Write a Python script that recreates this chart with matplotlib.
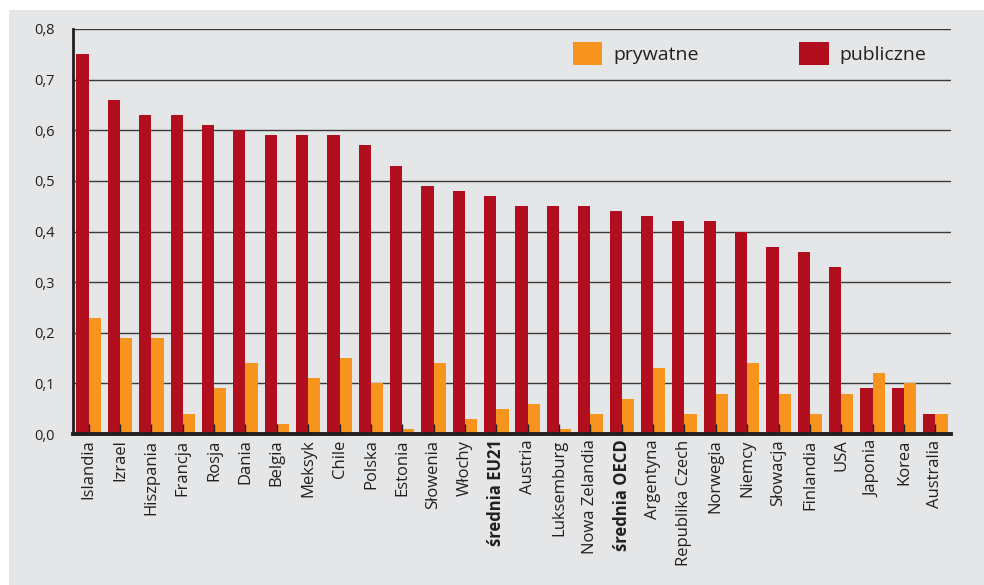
import numpy as np
import matplotlib
matplotlib.use("Agg")
import matplotlib.pyplot as plt
from matplotlib.patches import Rectangle, Patch
from matplotlib.ticker import FuncFormatter

plt.rcParams["font.family"] = ["Open Sans", "DejaVu Sans"]

countries = [
    "Islandia", "Izrael", "Hiszpania", "Francja", "Rosja", "Dania", "Belgia",
    "Meksyk", "Chile", "Polska", "Estonia", "Słowenia", "Włochy", "średnia EU21",
    "Austria", "Luksemburg", "Nowa Zelandia", "średnia OECD", "Argentyna",
    "Republika Czech", "Norwegia", "Niemcy", "Słowacja", "Finlandia", "USA",
    "Japonia", "Korea", "Australia",
]
publiczne = [
    0.75, 0.66, 0.63, 0.63, 0.61, 0.60, 0.59, 0.59, 0.59, 0.57, 0.53, 0.49,
    0.48, 0.47, 0.45, 0.45, 0.45, 0.44, 0.43, 0.42, 0.42, 0.40, 0.37, 0.36,
    0.33, 0.09, 0.09, 0.04,
]
prywatne = [
    0.23, 0.19, 0.19, 0.04, 0.09, 0.14, 0.02, 0.11, 0.15, 0.10, 0.01, 0.14,
    0.03, 0.05, 0.06, 0.01, 0.04, 0.07, 0.13, 0.04, 0.08, 0.14, 0.08, 0.04,
    0.08, 0.12, 0.10, 0.04,
]
bold_labels = ["średnia EU21", "średnia OECD"]

RED = "#b20f1e"
ORANGE = "#f7941e"
BG = "#e5e6e8"
INK = "#231f20"

W, H = 984, 585
fig = plt.figure(figsize=(W / 100, H / 100), dpi=100, facecolor="white")
# grey panel behind the chart (white strip at top/left from the page)
fig.patches.append(Rectangle((9 / W, 0), 1 - 9 / W, 1 - 10 / H,
                             transform=fig.transFigure, facecolor=BG,
                             edgecolor="none", zorder=-10))

ax = fig.add_axes([73 / W, (H - 434) / H, (951 - 73) / W, (434 - 29) / H])
ax.set_facecolor(BG)

x = np.arange(len(countries))
bw = 0.39
ax.bar(x - bw / 2, publiczne, width=bw, color=RED, zorder=2)
ax.bar(x + bw / 2, prywatne, width=bw, color=ORANGE, zorder=2)

ax.set_xlim(-0.5, len(countries) - 0.5)
ax.set_ylim(0, 0.8)
ax.set_yticks(np.arange(0, 0.81, 0.1))
ax.yaxis.set_major_formatter(FuncFormatter(lambda v, p: f"{v:.1f}".replace(".", ",")))

ax.set_axisbelow(True)
ax.grid(axis="y", color="#3a3a3a", linewidth=1.0)
ax.xaxis.set_zorder(3)

for s in ["top", "right"]:
    ax.spines[s].set_visible(False)
ax.spines["left"].set_color(INK)
ax.spines["left"].set_linewidth(2.0)
ax.spines["bottom"].set_color(INK)
ax.spines["bottom"].set_linewidth(2.8)
ax.spines["left"].set_zorder(4)
ax.spines["bottom"].set_zorder(4)

ax.tick_params(axis="y", length=0, pad=13, labelsize=10.5, labelcolor=INK)
ax.tick_params(axis="x", direction="in", length=7, width=1, color=INK,
               pad=4, labelsize=12, labelcolor=INK)
ax.set_xticks(x)
ax.set_xticklabels(countries, rotation=90)
for lbl in ax.get_xticklabels():
    if lbl.get_text() in bold_labels:
        lbl.set_fontweight("bold")

handles = [Patch(facecolor=ORANGE, edgecolor="none"),
           Patch(facecolor=RED, edgecolor="none")]
ax.legend(handles, ["prywatne", "publiczne"], ncol=2, frameon=False,
          loc="upper left", bbox_to_anchor=(0.5695, 0.967),
          borderaxespad=0, borderpad=0, fontsize=14,
          handlelength=1.5, handleheight=1.45, handletextpad=0.55,
          columnspacing=5.2, labelcolor=INK)

fig.savefig("out.png", dpi=100, facecolor="white")
